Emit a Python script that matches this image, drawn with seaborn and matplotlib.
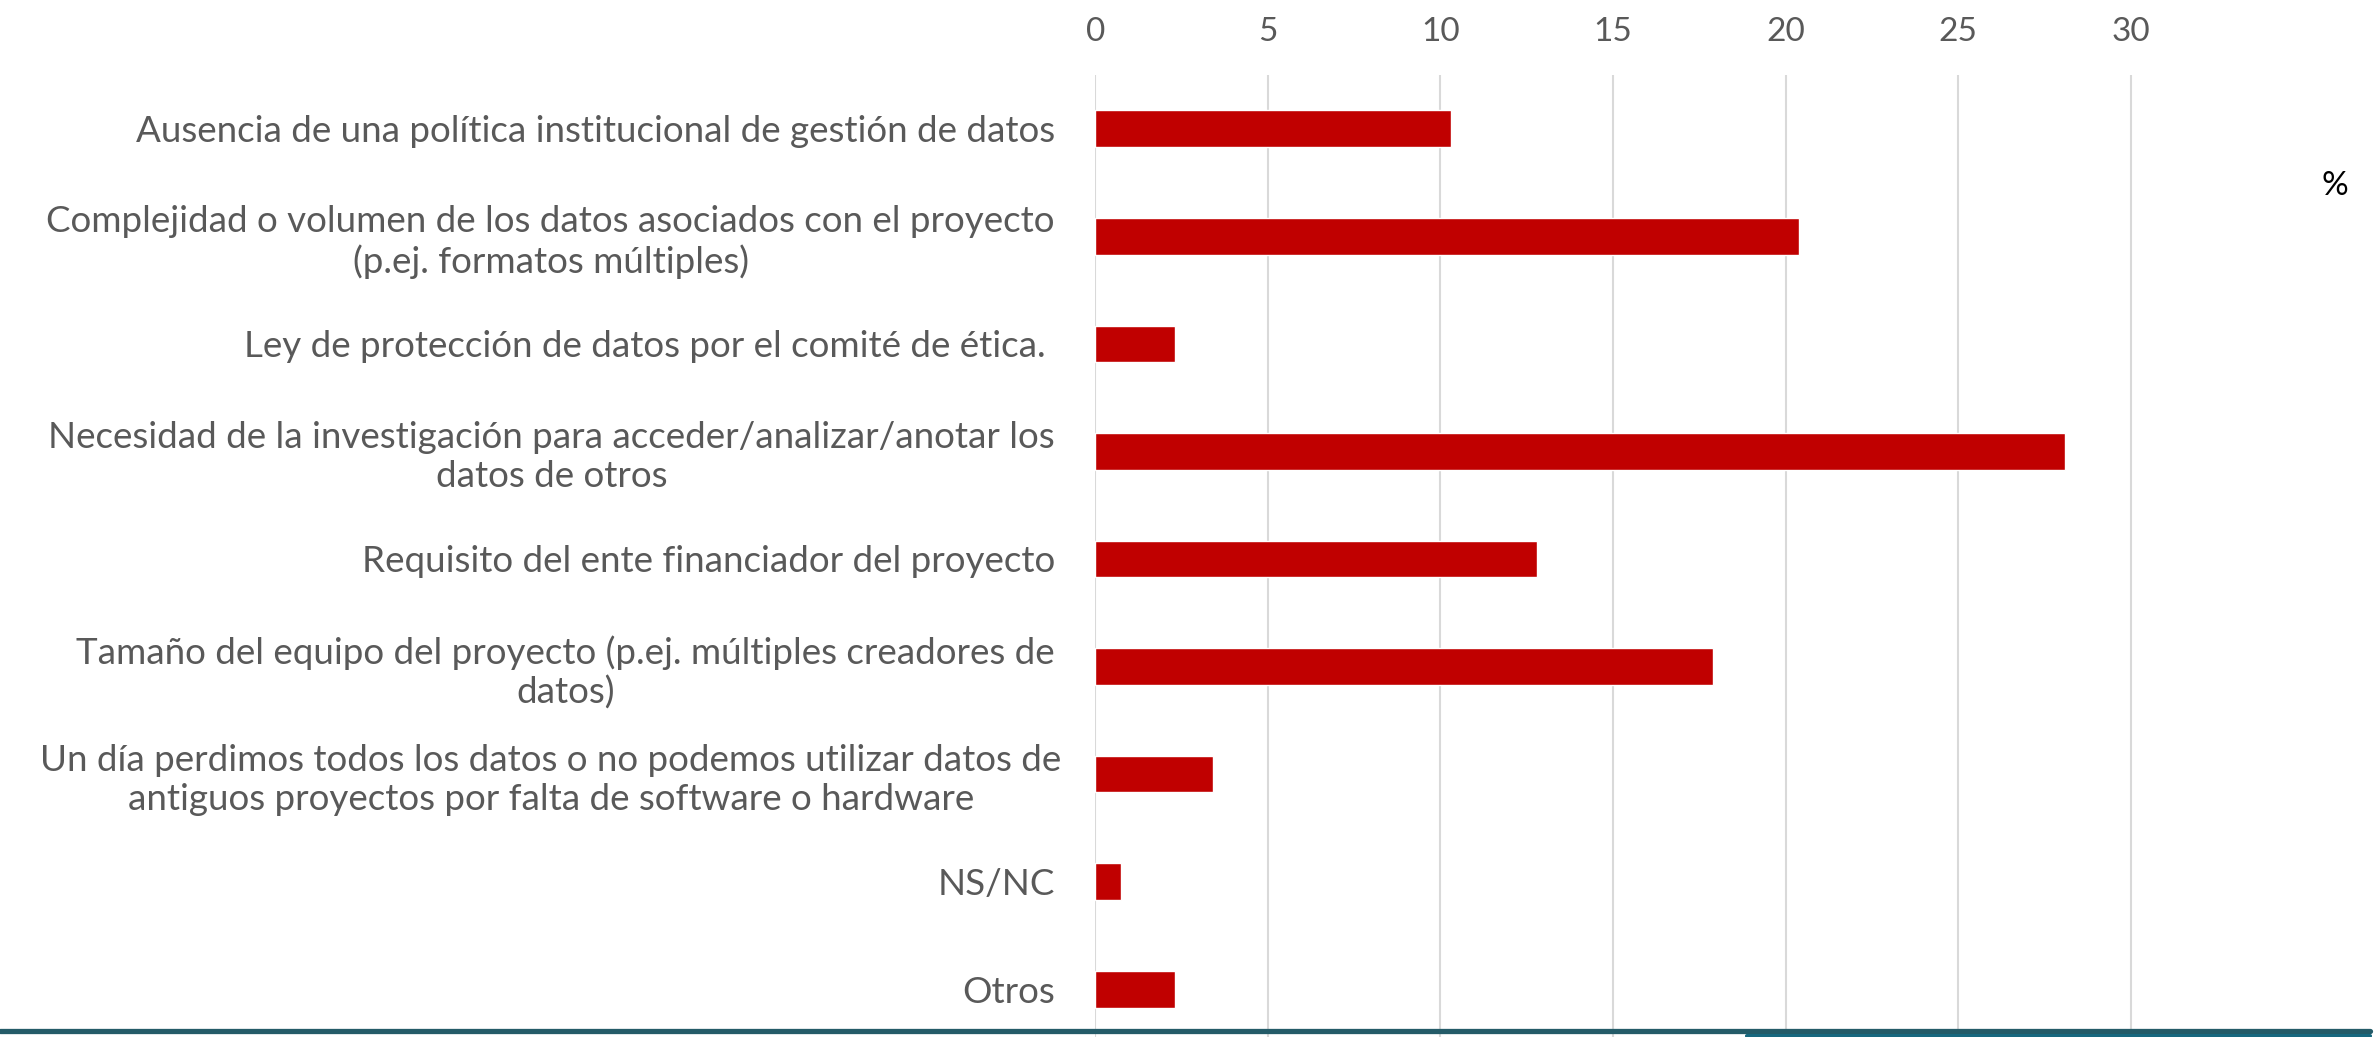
import matplotlib.pyplot as plt
import seaborn as sns
import pandas as pd
from matplotlib.lines import Line2D

# survey answers (%)
reasons = [
    "Ausencia de una política institucional de gestión de datos",
    "Complejidad o volumen de los datos asociados con el proyecto\n(p.ej. formatos múltiples)",
    "Ley de protección de datos por el comité de ética. ",
    "Necesidad de la investigación para acceder/analizar/anotar los\ndatos de otros",
    "Requisito del ente financiador del proyecto",
    "Tamaño del equipo del proyecto (p.ej. múltiples creadores de\ndatos)",
    "Un día perdimos todos los datos o no podemos utilizar datos de\nantiguos proyectos por falta de software o hardware",
    "NS/NC",
    "Otros",
]
percent = [10.3, 20.4, 2.3, 28.1, 12.8, 17.9, 3.4, 0.75, 2.3]
xticks = [0, 5, 10, 15, 20, 25, 30]

df = pd.DataFrame({"reason": reasons, "pct": percent})

sns.set_style("white")
plt.rcParams["font.family"] = ["Lato", "DejaVu Sans"]

fig = plt.figure(figsize=(23.74, 10.37), dpi=100)
ax = fig.add_axes([0.4613, -0.0058, 0.5387, 0.9335])

sns.barplot(data=df, x="pct", y="reason", orient="h", color="#C00000",
            width=0.34, saturation=1, ax=ax)

ax.set_xlim(0, 37.04)
ax.set_xticks(xticks)
ax.xaxis.tick_top()
ax.grid(axis="x", color="#D9D9D9", linewidth=1.5)
ax.set_axisbelow(True)
ax.tick_params(axis="x", length=0, pad=20, labelsize=24, labelcolor="#595959")
ax.tick_params(axis="y", length=0, pad=29, labelsize=26.5, labelcolor="#595959")
ax.set_xlabel("")
ax.set_ylabel("")
for s in ax.spines.values():
    s.set_visible(False)

for lab in ax.get_yticklabels():
    lab.set_multialignment("center")
    lab.set_linespacing(1.2)
# this one is wider than the gap, Excel centres it instead
long_lab = ax.get_yticklabels()[6]
long_lab.set_horizontalalignment("center")
long_lab.set_x((551 - 1095 + 40) / 1279)

fig.text(2335 / 2374, 1 - 186 / 1037, "%", fontsize=24, color="black",
         ha="center", va="center")

# slide footer lines
fig.add_artist(Line2D([0, 0.9985], [0.0058, 0.0058], color="#245B68", lw=3.8))
fig.add_artist(Line2D([0.736, 0.9985], [0.0014, 0.0014], color="#17687F", lw=3))

fig.savefig("out.png", dpi=100)
